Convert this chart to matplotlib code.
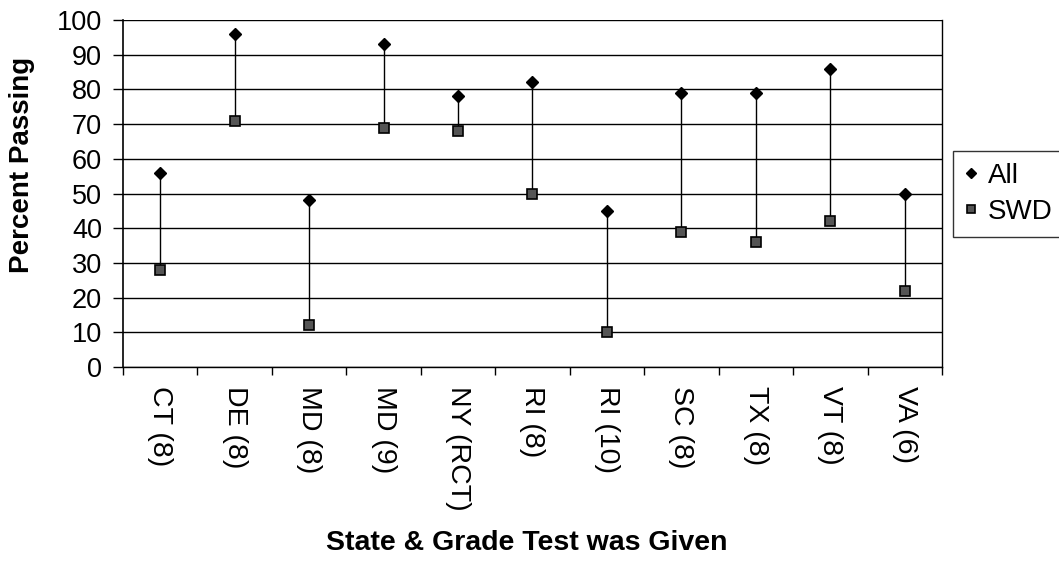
import matplotlib.pyplot as plt
import numpy as np

plt.rcParams['font.family'] = ['Liberation Sans', 'DejaVu Sans']

states = ['CT (8)', 'DE (8)', 'MD (8)', 'MD (9)', 'NY (RCT)', 'RI (8)',
          'RI (10)', 'SC (8)', 'TX (8)', 'VT (8)', 'VA (6)']
all_pass = [56, 96, 48, 93, 78, 82, 45, 79, 79, 86, 50]
swd_pass = [28, 71, 12, 69, 68, 50, 10, 39, 36, 42, 22]

x = np.arange(len(states))

fig = plt.figure(figsize=(10.59, 5.66), dpi=100)
ax = fig.add_axes([0.1161, 0.3516, 0.7734, 0.613])

# grid lines every 10
for v in range(0, 101, 10):
    ax.axhline(v, color='black', lw=1.0, zorder=1)

ax.vlines(x, swd_pass, all_pass, color='black', lw=1.0, zorder=2)
ax.plot(x, all_pass, ls='none', marker='D', ms=6, color='black', label='All', zorder=3)
ax.plot(x, swd_pass, ls='none', marker='s', ms=7, mfc='#555555', mec='black',
        mew=1.2, label='SWD', zorder=3)

ax.set_xlim(-0.5, len(states) - 0.5)
ax.set_ylim(0, 100)
ax.set_yticks(range(0, 101, 10))
ax.tick_params(axis='y', labelsize=19.5, length=7, direction='out', width=1, pad=8)

ax.set_xticks(x)
ax.set_xticklabels(states, rotation=270, fontsize=20.5, va='top', ha='center')
ax.set_xticks(np.arange(-0.5, len(states)), minor=True)
ax.tick_params(axis='x', which='major', length=0, pad=14)
ax.tick_params(axis='x', which='minor', length=6, width=1, direction='out')

ax.spines['top'].set_visible(False)
ax.spines['right'].set_linewidth(1.0)
ax.spines['left'].set_linewidth(1.2)
ax.spines['bottom'].set_linewidth(1.0)

fig.text(22 / 1059, 1 - 165 / 566, 'Percent Passing', rotation=90, fontsize=20,
         fontweight='bold', ha='center', va='center')
fig.text(527 / 1059, 1 - 543 / 566, 'State & Grade Test was Given', fontsize=20.5,
         fontweight='bold', ha='center', va='center')

leg = fig.legend(loc='center left', bbox_to_anchor=(953 / 1059, 1 - 194 / 566),
                 fontsize=20, frameon=True, fancybox=False, edgecolor='black',
                 handlelength=0.4, handletextpad=0.4, borderpad=0.45,
                 labelspacing=0.35, borderaxespad=0, markerscale=0.8)
leg.get_frame().set_linewidth(1.0)

fig.savefig('out.png', dpi=100)
